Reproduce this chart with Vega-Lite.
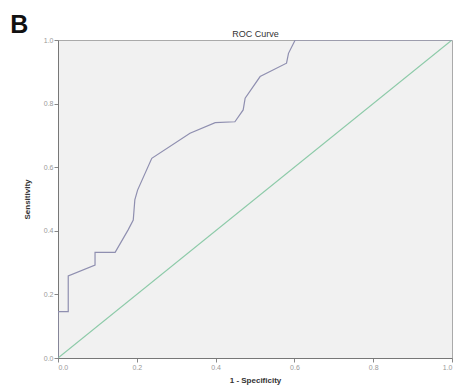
{
  "$schema": "https://vega.github.io/schema/vega-lite/v6.json",
  "width": 394,
  "height": 318,
  "autosize": {"type": "none"},
  "padding": {"left": 58, "top": 40, "right": 3, "bottom": 34},
  "background": "white",
  "title": {"text": "B", "anchor": "start", "frame": "bounds", "fontSize": 25, "fontWeight": "bold", "font": "Liberation Sans", "color": "#111", "dx": -13, "dy": 9, "offset": 0},
  "config": {
    "view": {"stroke": "#aaaaaa", "strokeWidth": 1, "fill": "#f1f1f1"},
    "font": "Liberation Sans"
  },
  "datasets": {
    "curve": [
      {"i": 0, "fpr": 0.0, "tpr": 0.0},
      {"i": 1, "fpr": 0.0, "tpr": 0.146},
      {"i": 2, "fpr": 0.026, "tpr": 0.146},
      {"i": 3, "fpr": 0.026, "tpr": 0.258},
      {"i": 4, "fpr": 0.094, "tpr": 0.292},
      {"i": 5, "fpr": 0.094, "tpr": 0.332},
      {"i": 6, "fpr": 0.145, "tpr": 0.332},
      {"i": 7, "fpr": 0.178, "tpr": 0.403},
      {"i": 8, "fpr": 0.191, "tpr": 0.434},
      {"i": 9, "fpr": 0.195, "tpr": 0.497},
      {"i": 10, "fpr": 0.202, "tpr": 0.528},
      {"i": 11, "fpr": 0.238, "tpr": 0.628},
      {"i": 12, "fpr": 0.335, "tpr": 0.707},
      {"i": 13, "fpr": 0.399, "tpr": 0.74},
      {"i": 14, "fpr": 0.449, "tpr": 0.743},
      {"i": 15, "fpr": 0.47, "tpr": 0.78},
      {"i": 16, "fpr": 0.475, "tpr": 0.817},
      {"i": 17, "fpr": 0.513, "tpr": 0.885},
      {"i": 18, "fpr": 0.58, "tpr": 0.927},
      {"i": 19, "fpr": 0.585, "tpr": 0.958},
      {"i": 20, "fpr": 0.602, "tpr": 1.0},
      {"i": 21, "fpr": 1.0, "tpr": 1.0}
    ],
    "diag": [
      {"i": 0, "fpr": 0.0, "tpr": 0.0},
      {"i": 1, "fpr": 1.0, "tpr": 1.0}
    ]
  },
  "layer": [
    {
      "data": {"name": "diag"},
      "mark": {"type": "line", "color": "#8ccaa8", "strokeWidth": 1.2, "clip": true},
      "encoding": {
        "x": {"field": "fpr", "type": "quantitative", "scale": {"domain": [0, 1], "nice": false},
          "axis": {"orient": "top", "title": "ROC Curve", "titleFontSize": 9, "titleFontWeight": "normal", "titleColor": "#333", "titlePadding": 2, "labels": false, "ticks": false, "domain": false, "grid": false}},
        "y": {"field": "tpr", "type": "quantitative", "scale": {"domain": [0, 1], "nice": false},
          "axis": {"title": "Sensitivity", "titleFontSize": 8, "titleFontWeight": "bold", "titleColor": "#333", "titlePadding": 12, "values": [0, 0.2, 0.4, 0.6, 0.8, 1.0], "format": ".1f", "labelFontSize": 7, "labelColor": "#999", "tickColor": "#888", "tickSize": 4, "domainColor": "#777", "grid": false, "labelPadding": 1}},
        "order": {"field": "i", "type": "quantitative"}
      }
    },
    {
      "data": {"name": "curve"},
      "mark": {"type": "line", "color": "#8f8fb0", "strokeWidth": 1.2, "clip": true},
      "encoding": {
        "x": {"field": "fpr", "type": "quantitative", "scale": {"domain": [0, 1], "nice": false},
          "axis": {"orient": "bottom", "title": "1 - Specificity", "titleFontSize": 8, "titleFontWeight": "bold", "titleColor": "#333", "titlePadding": 6, "values": [0, 0.2, 0.4, 0.6, 0.8, 1.0], "format": ".1f", "labelFontSize": 7, "labelColor": "#999", "tickColor": "#888", "tickSize": 4, "domainColor": "#777", "grid": false, "labelPadding": 1}},
        "y": {"field": "tpr", "type": "quantitative"},
        "order": {"field": "i", "type": "quantitative"}
      }
    }
  ],
  "resolve": {"axis": {"x": "independent"}}
}
